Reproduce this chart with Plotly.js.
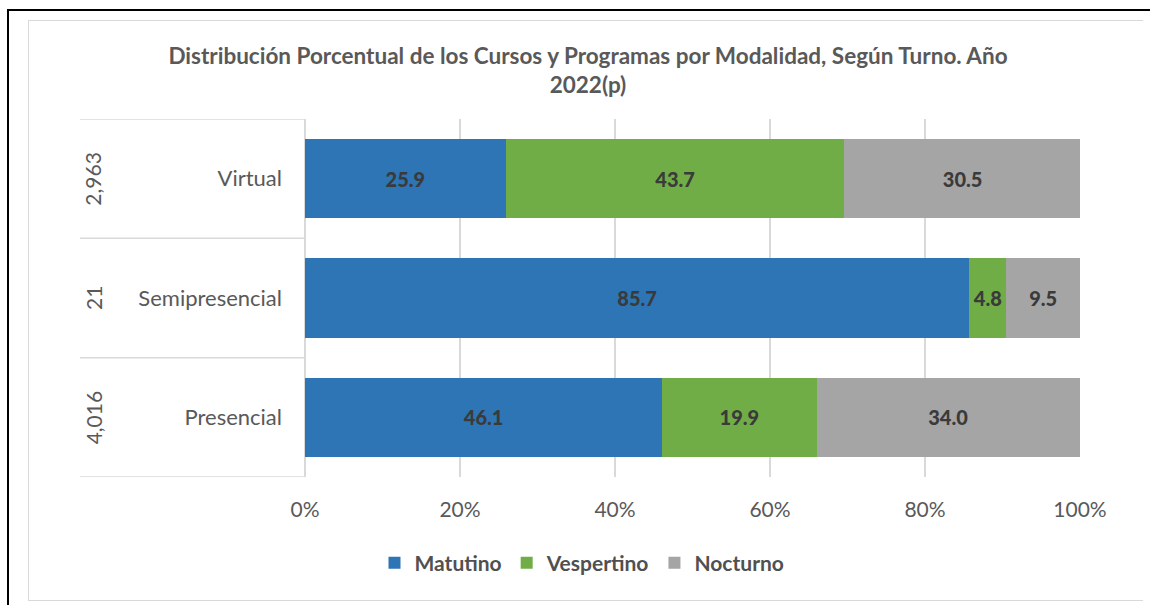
<!DOCTYPE html>
<html>
<head>
<meta charset="utf-8">
<script src="https://cdn.plot.ly/plotly-3.0.1.min.js"></script>
<style>
  html, body { margin: 0; padding: 0; background: #ffffff; }
  #wrap { position: relative; width: 1150px; height: 605px; overflow: hidden; }
  #chart { position: absolute; left: 0; top: 0; width: 1150px; height: 605px; }
  .ln { position: absolute; pointer-events: none; }
</style>
</head>
<body>
<div id="wrap">
  <div id="chart"></div>
  <div class="ln" style="left:7px; top:9px; width:1143px; height:2px; background:#000;"></div>
  <div class="ln" style="left:7px; top:9px; width:2px; height:596px; background:#000;"></div>
  <div class="ln" style="left:28px; top:20px; width:1115px; height:1px; background:#d9d9d9;"></div>
  <div class="ln" style="left:28px; top:20px; width:1px; height:581px; background:#d9d9d9;"></div>
  <div class="ln" style="left:28px; top:600px; width:1115px; height:1px; background:#d9d9d9;"></div>
</div>
<script>
// Data
const modalidades = ["Presencial", "Semipresencial", "Virtual"];
const totales = ["4,016", "21", "2,963"];
const matutino = [46.1, 85.7, 25.9];
const vespertino = [19.9, 4.8, 43.7];
const nocturno = [34.0, 9.5, 30.5];
const xTicks = [0, 20, 40, 60, 80, 100];
const xTickLabels = ["0%", "20%", "40%", "60%", "80%", "100%"];

const FONT = "Lato, 'Open Sans', sans-serif";
const labelFont = { family: FONT, size: 20, color: "#3a3a3a", weight: 900 };

function series(name, vals, color) {
  return {
    type: "bar",
    orientation: "h",
    name: name,
    y: modalidades,
    x: vals,
    marker: { color: color, line: { width: 0 } },
    text: vals.map(v => v.toFixed(1)),
    texttemplate: "%{text}",
    textposition: "inside",
    insidetextanchor: "middle",
    constraintext: "none",
    textfont: labelFont,
    hoverinfo: "name+x"
  };
}

const data = [
  series("Matutino", matutino, "#2E75B6"),
  series("Vespertino", vespertino, "#70AD47"),
  series("Nocturno", nocturno, "#A5A5A5")
];

// plot area: x 305..1080, y 119..477
const L = 305, R = 1080, T = 119, B = 477;
const px = v => (v - L) / (R - L);

const shapes = [];
[-0.5, 0.5, 1.5, 2.5].forEach(yv => {
  shapes.push({
    type: "line", xref: "paper", yref: "y",
    x0: px(80), x1: 0, y0: yv, y1: yv,
    line: { color: "#d9d9d9", width: 1.5 }, layer: "below"
  });
});

const annotations = modalidades.map((m, i) => ({
  xref: "paper", yref: "y",
  x: px(93), y: m,
  text: totales[i],
  textangle: -90,
  showarrow: false,
  font: { family: FONT, size: 21, color: "#595959" },
  xanchor: "center", yanchor: "middle"
}));

const layout = {
  width: 1150, height: 605,
  margin: { l: L, r: 1150 - R, t: T, b: 605 - B, pad: 0 },
  paper_bgcolor: "rgba(0,0,0,0)",
  plot_bgcolor: "rgba(0,0,0,0)",
  barmode: "stack",
  bargap: 0.335,
  title: {
    text: "<b>Distribución Porcentual de los Cursos y Programas por Modalidad, Según Turno. Año<br>2022(p)</b>",
    font: { family: FONT, size: 22.5, color: "#595959" },
    x: 588 / 1150, xref: "container", xanchor: "center",
    y: 1 - 64 / 605, yref: "container", yanchor: "top"
  },
  xaxis: {
    range: [0, 100],
    tickvals: xTicks,
    ticktext: xTickLabels,
    showgrid: true,
    gridcolor: "#d9d9d9",
    gridwidth: 1.5,
    zeroline: true,
    zerolinecolor: "#d9d9d9",
    zerolinewidth: 1.5,
    showline: false,
    ticks: "",
    tickfont: { family: FONT, size: 21, color: "#595959" },
    ticklabelstandoff: 18,
    fixedrange: true
  },
  yaxis: {
    type: "category",
    categoryorder: "array",
    categoryarray: modalidades,
    range: [-0.5, 2.5],
    showgrid: false,
    zeroline: false,
    showline: false,
    ticks: "",
    tickfont: { family: FONT, size: 22, color: "#595959" },
    ticklabelstandoff: 22,
    fixedrange: true
  },
  showlegend: true,
  legend: {
    orientation: "h",
    xref: "container", yref: "container",
    x: 582 / 1150, xanchor: "center",
    y: 1 - 563 / 605, yanchor: "middle",
    font: { family: FONT, size: 21, color: "#505050", weight: "bold" },
    itemclick: false, itemdoubleclick: false,
    traceorder: "normal"
  },
  shapes: shapes,
  annotations: annotations
};

Plotly.newPlot("chart", data, layout, { displayModeBar: false, staticPlot: true });
</script>
</body>
</html>
